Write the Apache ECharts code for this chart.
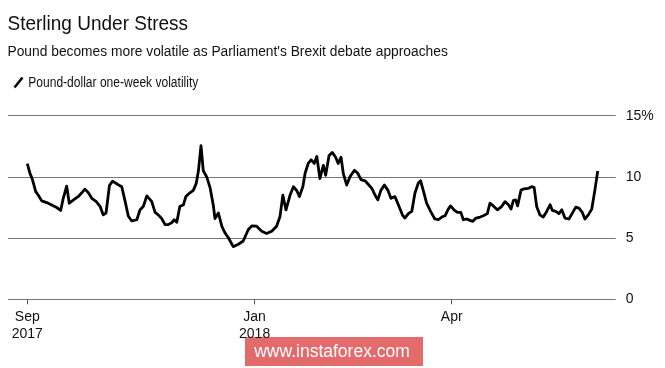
<!DOCTYPE html>
<html>
<head>
<meta charset="utf-8">
<script src="https://cdn.jsdelivr.net/npm/echarts@6/dist/echarts.min.js"></script>
<style>
html,body{margin:0;padding:0;background:#fff;}
#c{width:665px;height:368px;}
</style>
</head>
<body>
<div id="c"></div>
<script>
// Trading-day index from the Sep 2017 tick (x), one-week volatility in % (y)
const day = [0,0.95,1.65,2.1,2.95,3.86,5.05,6.8,8.56,10.3,11.7,12.6,13.8,14.7,16.1,17.9,19.1,20.2,21.4,22.6,24.1,25.5,26.6,27.6,28.8,29.9,31.6,33.1,34.3,35.4,36.6,38.4,39.5,40.7,41.9,43.6,44.8,45.9,47.1,48.3,49.4,50.6,51.5,52.4,53.5,54.7,55.6,57.0,58.2,59.2,60.0,60.9,61.7,62.9,64.1,65.2,65.8,67.0,68.2,69.3,70.5,72.2,74.0,75.7,77.5,78.7,80.4,82.2,83.9,85.7,87.4,88.6,89.6,90.7,92.1,93.3,94.5,95.4,96.6,97.4,98.5,99.5,100.6,101.5,102.6,103.8,104.6,105.8,106.9,108.1,109.0,110.0,110.8,112.0,113.1,114.7,115.8,117.0,118.4,119.6,120.8,121.9,122.9,124.0,125.2,126.4,127.5,128.9,130.1,131.5,132.4,133.6,134.8,135.9,137.1,137.9,138.8,140.0,141.4,142.9,144.1,145.3,146.5,147.6,148.4,149.6,150.8,152.0,152.9,154.1,155.2,156.2,157.3,158.8,159.9,161.3,162.2,163.4,164.8,166.3,167.5,168.7,169.6,170.4,171.2,171.9,173.1,174.2,175.6,176.8,177.7,178.6,179.7,180.9,182.1,183.3,184.1,185.3,186.4,187.4,188.5,189.9,191.1,192.3,193.4,194.6,195.5,196.7,197.9,199.0,200.0];
const volatility = [11.08,10.27,9.9,10.0,8.8,8.5,8.04,7.9,7.7,7.5,7.26,8.25,9.25,7.85,8.1,8.4,8.7,9.0,8.7,8.25,8.0,7.6,6.9,7.05,9.3,9.65,9.4,9.2,8.0,6.8,6.4,6.5,7.3,7.6,8.45,8.0,7.1,6.9,6.6,6.1,6.1,6.25,6.5,6.3,7.6,7.7,8.4,8.7,8.9,9.45,10.5,12.55,10.5,10.0,9.1,7.7,6.6,7.05,5.97,5.43,5.03,4.3,4.5,4.76,5.7,6.0,5.97,5.56,5.38,5.56,5.97,6.77,8.5,7.3,8.5,9.2,8.87,8.4,9.2,10.3,11.1,11.4,11.1,11.67,9.87,10.94,10.13,11.75,12.0,11.6,11.1,11.6,10.27,9.33,10.0,10.54,10.32,9.78,9.68,9.38,9.06,8.52,8.12,8.92,9.33,8.92,8.25,8.39,7.72,6.9,6.64,7.0,7.18,8.66,9.5,9.68,8.92,7.85,7.18,6.56,6.5,6.72,6.83,7.37,7.63,7.31,7.1,7.1,6.5,6.56,6.45,6.37,6.64,6.72,6.83,7.0,7.85,7.63,7.31,7.58,7.98,7.72,7.37,8.06,8.12,7.63,8.92,9.03,9.06,9.2,9.14,7.58,6.9,6.72,7.18,7.72,7.26,7.18,7.0,7.31,6.64,6.56,7.04,7.53,7.45,7.1,6.56,6.9,7.37,8.92,10.48];
const tickDays = [0, 79.7, 148.8];
const tickLabels = ['Sep\n2017', 'Jan\n2018', 'Apr'];
const titleText = 'Sterling Under Stress';
const subtitleText = "Pound becomes more volatile as Parliament's Brexit debate approaches";
const seriesName = 'Pound-dollar one-week volatility';

const FONT = '"Liberation Sans", Arial, Helvetica, sans-serif';
const chart = echarts.init(document.getElementById('c'), null, {renderer: 'canvas'});
const pts = day.map((d, i) => [d, volatility[i]]);

chart.setOption({
  animation: false,
  backgroundColor: '#ffffff',
  grid: {left: 8, right: 49.3, top: 115.7, bottom: 68.7, containLabel: false},
  xAxis: {
    type: 'value',
    min: -6.77, max: 206.3,
    splitLine: {show: false},
    axisLine: {show: false},
    axisTick: {show: true, customValues: tickDays, length: 5, lineStyle: {color: '#555', width: 1}},
    axisLabel: {
      customValues: tickDays,
      formatter: v => { const i = tickDays.indexOf(v); return i >= 0 ? tickLabels[i] : ''; },
      fontFamily: FONT, fontSize: 14, color: '#111', lineHeight: 17, margin: 9
    }
  },
  yAxis: {
    type: 'value',
    position: 'right',
    min: 0, max: 15, interval: 5,
    axisLine: {show: false},
    axisTick: {show: false},
    splitLine: {show: true, lineStyle: {color: '#777', width: 1.2}},
    axisLabel: {
      fontFamily: FONT, fontSize: 14, color: '#111', margin: 10,
      formatter: v => v === 15 ? '15%' : String(v)
    }
  },
  series: [{
    name: seriesName,
    type: 'line',
    data: pts,
    showSymbol: false,
    smooth: false,
    color: '#000',
    lineStyle: {color: '#000', width: 2.8, join: 'round'},
    itemStyle: {color: '#000'}
  }],
  graphic: [
    {type: 'text', x: 7.5, y: 24.5, scaleX: 0.905,
     style: {text: titleText, fill: '#111', font: '21px ' + FONT, align: 'left', verticalAlign: 'middle'}},
    {type: 'text', x: 7.5, y: 52, scaleX: 0.985,
     style: {text: subtitleText, fill: '#111', font: '14px ' + FONT, align: 'left', verticalAlign: 'middle'}},
    {type: 'line', shape: {x1: 14.5, y1: 87.5, x2: 22.5, y2: 77.5},
     style: {stroke: '#000', lineWidth: 2.6}},
    {type: 'text', x: 28.3, y: 83.5, scaleX: 0.86,
     style: {text: seriesName, fill: '#111', font: '14px ' + FONT, align: 'left', verticalAlign: 'middle'}},
    {
      type: 'group',
      left: 245, top: 337,
      children: [{
        type: 'rect',
        shape: {x: 0, y: 0, width: 178, height: 29},
        style: {fill: 'rgba(220,60,62,0.76)'}
      }, {
        type: 'text',
        x: 87, y: 15,
        style: {text: 'www.instaforex.com', fill: '#fff', font: '17.5px ' + FONT, align: 'center', verticalAlign: 'middle'}
      }]
    }
  ]
});
</script>
</body>
</html>
